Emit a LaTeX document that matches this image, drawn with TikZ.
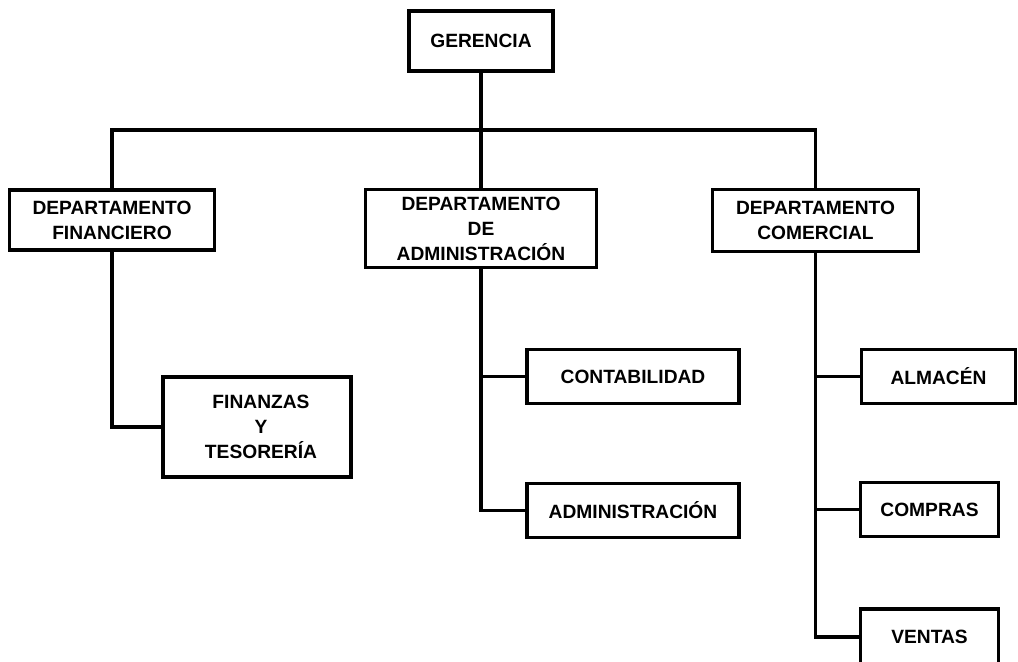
\documentclass[tikz,border=0pt]{standalone}
\usepackage{fontspec}
\setmainfont{Liberation Sans}
\usepackage{tikz}

\begin{document}
\begin{tikzpicture}[x=0.75pt,y=-0.75pt,line width=2.3pt,
caja/.style={draw,align=center,inner sep=0pt,font=\fontsize{14.4}{18.7}\selectfont\bfseries},
enlace/.style={line width=2.3pt}]
\useasboundingbox (0,0) rectangle (1018,661);
\clip (0,0) rectangle (1018,661);
\node[caja,minimum width=108pt,minimum height=45pt] (ger) at (481,41) {GERENCIA};
\node[caja,minimum width=154pt,minimum height=45pt] (fin) at (112,220) {DEPARTAMENTO\\FINANCIERO};
\node[caja,minimum width=173pt,minimum height=59pt] (adm) at (481,228.5) {DEPARTAMENTO\\DE\\ADMINISTRACIÓN};
\node[caja,minimum width=154pt,minimum height=46pt] (com) at (815.5,220.5) {DEPARTAMENTO\\COMERCIAL};
\node[caja,minimum width=141pt,minimum height=75pt] (fyt) at (257,427) {\hspace{6pt}FINANZAS\\\hspace{6pt}Y\\\hspace{6pt}TESORERÍA};
\node[caja,minimum width=159pt,minimum height=40pt] (cont) at (633,376.5) {CONTABILIDAD};
\node[caja,minimum width=159pt,minimum height=40pt] (admi) at (633,510.5) {ADMINISTRACIÓN};
\node[caja,minimum width=116pt,minimum height=40pt] (alm) at (938.5,376.5) {ALMACÉN};
\node[caja,minimum width=103pt,minimum height=40pt] (comp) at (929.5,509.5) {COMPRAS};
\node[caja,minimum width=103pt,minimum height=42pt] (ven) at (929.5,637) {VENTAS};
\coordinate (bus) at (481,130);
\draw[enlace] (ger.south) -- (adm.north);
\draw[enlace] (fin.north) |- (bus) -| (com.north);
\draw[enlace] (fin.south) |- (fyt.west);
\draw[enlace] (adm.south) |- (cont.west);
\draw[enlace] (adm.south) |- (admi.west);
\draw[enlace] (com.south) |- (alm.west);
\draw[enlace] (com.south) |- (comp.west);
\draw[enlace] (com.south) |- (ven.west);
\end{tikzpicture}
\end{document}
